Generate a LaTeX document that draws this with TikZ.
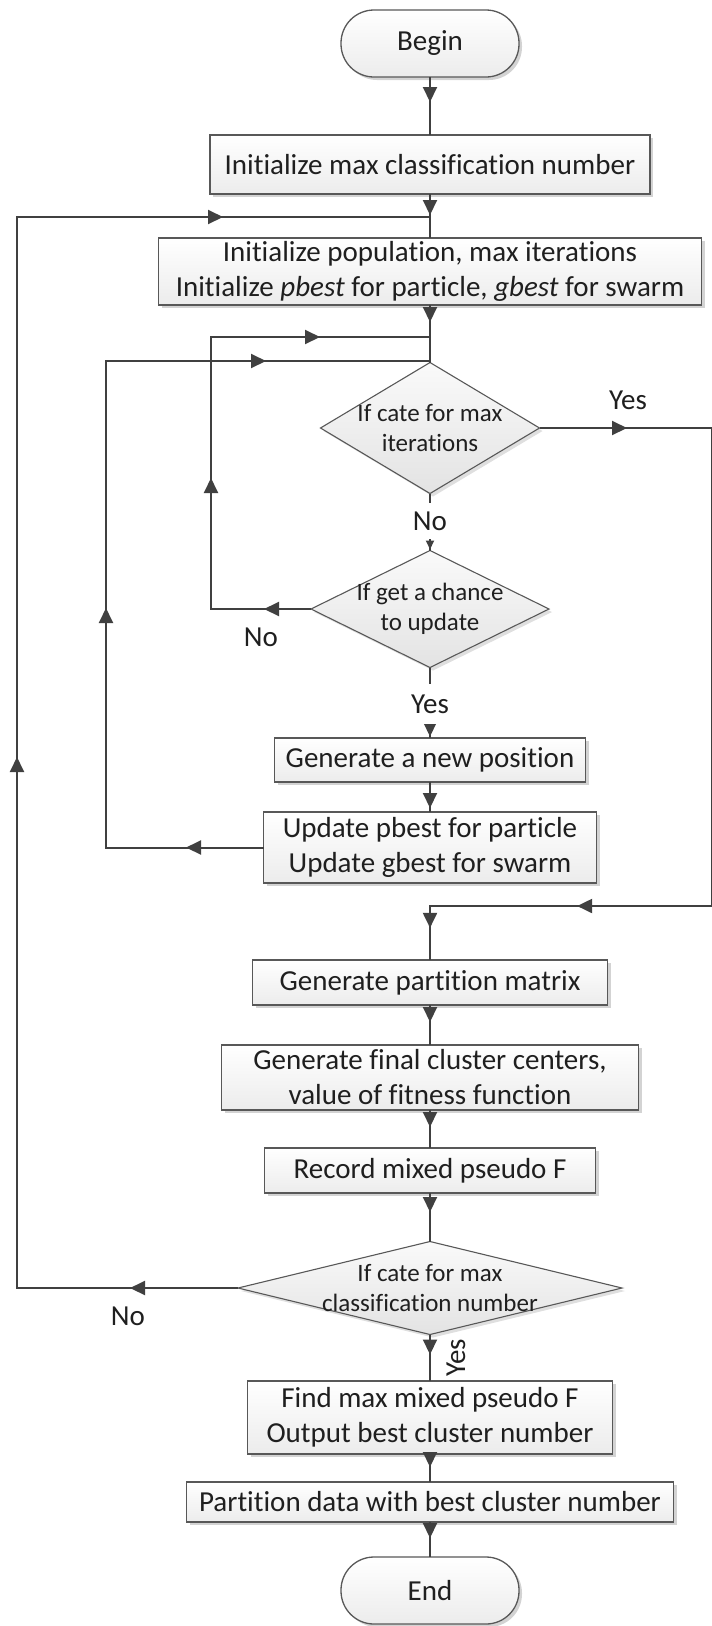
\documentclass[tikz,border=0pt]{standalone}
\usepackage{fontspec}
\setmainfont{Carlito}[Ligatures=CommonOff]
\usetikzlibrary{arrows.meta,decorations.markings,shadows,shapes.geometric,calc}
\definecolor{linec}{HTML}{404040}
\definecolor{edgec}{HTML}{585858}
\newcommand\tipA{\arrow{Triangle[length=15pt,width=14pt]}}
\newcommand\tipS{\arrow{Triangle[length=9pt,width=8pt]}}
\begin{document}
\begin{tikzpicture}[x=1pt,y=-1pt,
  every node/.style={outer sep=0pt},
  txt/.style={font=\fontsize{29}{35}\selectfont, text=black!88},
  box/.style={txt, draw=edgec, line width=1.3pt, top color=white, bottom color=gray!15,
    drop shadow={shadow xshift=3pt, shadow yshift=-3pt, fill=gray, opacity=0.35},
    inner sep=0pt, align=center},
  term/.style={box, rounded corners=33pt},
  dec/.style={diamond, draw=edgec, line width=1.1pt, top color=gray!4, bottom color=gray!22,
    drop shadow={shadow xshift=3pt, shadow yshift=-3pt, fill=gray, opacity=0.25},
    inner sep=0pt},
  dectext/.style={font=\fontsize{25}{30}\selectfont, text=black!88, align=center, inner sep=0pt},
  lbl/.style={txt, inner sep=0pt},
  gaplbl/.style={lbl, fill=white, inner xsep=2pt},
  conn/.style={color=linec, line width=2pt},
  marks/.style={postaction={decorate}, decoration={markings, #1}},
]
\useasboundingbox (0,0) rectangle (712,1626);

% ---- main column ----
\node[term, minimum width=178pt, minimum height=67pt] (begin) at (430,43.5) {Begin};
\node[box, minimum width=440pt, minimum height=59pt] (initmax) at (430,164.5) {Initialize max classification number};
\node[box, minimum width=543pt, minimum height=67pt] (initpop) at (430,271.5)
  {Initialize population, max iterations\\Initialize \textit{pbest} for particle, \textit{gbest} for swarm};
\node[dec, minimum width=219pt, minimum height=131pt] (dec1) at (430,428) {};
\node[dectext] (dec1t) at (dec1) {If cate for max\\iterations};
\node[dec, minimum width=238pt, minimum height=117pt] (dec2) at (430,609) {};
\node[dectext] (dec2t) at (dec2) {If get a chance\\to update};
\node[box, minimum width=311pt, minimum height=44pt] (genpos) at (430,760) {Generate a new position};
\node[box, minimum width=333pt, minimum height=71pt] (update) at (430,847.5)
  {Update pbest for particle\\Update gbest for swarm};
\node[box, minimum width=355pt, minimum height=45pt] (genpart) at (430,982.5) {Generate partition matrix};
\node[box, minimum width=417pt, minimum height=65pt] (final) at (430,1077.5)
  {Generate final cluster centers,\\value of fitness function};
\node[box, minimum width=331pt, minimum height=45pt] (record) at (430,1170.5) {Record mixed pseudo F};
\node[dec, minimum width=384pt, minimum height=93pt] (dec3) at (430,1288) {};
\node[dectext] (dec3t) at (dec3) {If cate for max\\classification number};
\node[box, minimum width=365pt, minimum height=73pt] (findmax) at (430,1417.5)
  {Find max mixed pseudo F\\Output best cluster number};
\node[box, minimum width=487pt, minimum height=40pt] (partition) at (430,1502) {Partition data with best cluster number};
\node[term, minimum width=178pt, minimum height=67pt] (end) at (430,1590.5) {End};

% ---- junctions and corners of the loops ----
\coordinate (j1) at (430,217);
\coordinate (j2) at (430,337);
\coordinate (j3) at (430,361);
\coordinate (o1) at (17,1288);
\coordinate (o2) at (17,217);
\coordinate (u1) at (106,847.5);
\coordinate (u2) at (106,361);
\coordinate (n1) at (211,609);
\coordinate (n2) at (211,337);
\coordinate (r1) at (712.3,428);
\coordinate (r2) at (712.3,906);
\coordinate (r3) at (430,906);

% ---- straight connectors ----
\draw[conn, marks={mark=at position 25pt with \tipA}] (begin.south) -- (initmax.north);
\draw[conn, marks={mark=at position 21pt with \tipA}] (initmax.south) -- (initpop.north);
\draw[conn, marks={mark=at position 17pt with \tipA}] (initpop.south) -- (dec1.north);
\draw[conn, marks={mark=at position 56pt with \tipS}] (dec1.south) -- (dec2.north);
\draw[conn, marks={mark=at position 69pt with \tipA}] (dec2.south) -- (genpos.north);
\draw[conn, marks={mark=at position 26pt with \tipA}] (genpos.south) -- (update.north);
\draw[conn, marks={mark=at position 17pt with \tipA}] (genpart.south) -- (final.north);
\draw[conn, marks={mark=at position 17pt with \tipA}] (final.south) -- (record.north);
\draw[conn, marks={mark=at position 19pt with \tipA}] (record.south) -- (dec3.north);
\draw[conn, marks={mark=at position 20pt with \tipA}] (dec3.south) -- (findmax.north);
\draw[conn, marks={mark=at position 13pt with \tipA}] (findmax.south) -- (partition.north);
\draw[conn, marks={mark=at position 16pt with \tipA}] (partition.south) -- (end.north);

% ---- loops ----
\draw[conn, marks={mark=at position 108pt with \tipA, mark=at position 752pt with \tipA,
    mark=at position 1498pt with \tipA}]
  (dec3.west) -- (o1) -- (o2) -- (j1);
\draw[conn, marks={mark=at position 77.5pt with \tipA, mark=at position 397pt with \tipA,
    mark=at position 804pt with \tipA}]
  (update.west) -- (u1) -- (u2) -- (j3);
\draw[conn, marks={mark=at position 47pt with \tipA, mark=at position 231pt with \tipA,
    mark=at position 481pt with \tipA}]
  (dec2.west) -- (n1) -- (n2) -- (j2);
\draw[conn, marks={mark=at position 87.5pt with \tipA, mark=at position 786pt with \tipA,
    mark=at position 955pt with \tipA}]
  (dec1.east) -- (r1) -- (r2) -- (r3) -- (genpart.north);

% ---- branch labels ----
\node[lbl] (yes1) at (628,400) {Yes};
\node[gaplbl, inner ysep=9pt] (no1) at (430,521) {No};
\node[lbl] (no2) at (261,637) {No};
\node[gaplbl, inner ysep=11pt] (yes2) at (430,704) {Yes};
\node[lbl] (no3) at (128,1316) {No};
\node[lbl, rotate=90] (yes3) at (456,1358) {Yes};
\end{tikzpicture}
\end{document}
